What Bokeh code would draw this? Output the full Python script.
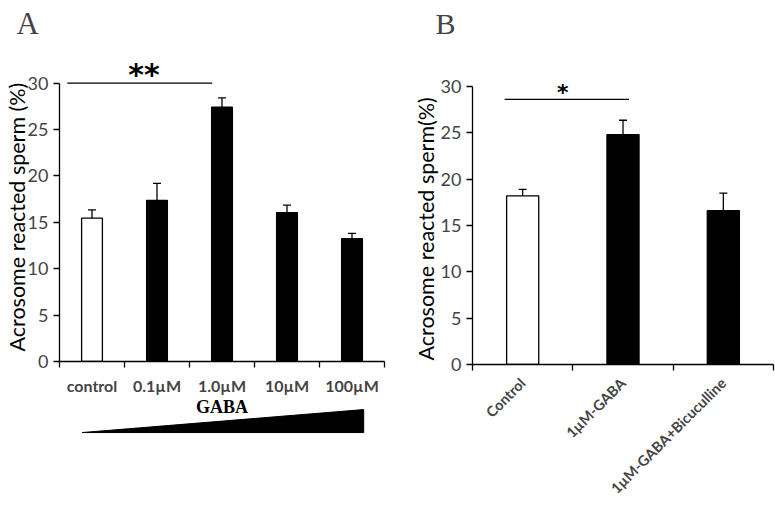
from bokeh.plotting import figure
from bokeh.models import Range1d, FixedTicker, ColumnDataSource, Whisker, TeeHead, Title
from bokeh.layouts import row, column
from bokeh.embed import file_html
from bokeh.resources import INLINE
from bokeh.core.properties import value
import math

# ---------------- data ----------------
cats_a = ["control", "0.1\u00b5M", "1.0\u00b5M", "10\u00b5M", "100\u00b5M"]
vals_a = [15.45, 17.35, 27.4, 16.05, 13.25]
errs_a = [0.9, 1.85, 1.0, 0.8, 0.55]
colors_a = ["white", "black", "black", "black", "black"]

cats_b = ["Control", "1\u00b5M-GABA", "1\u00b5M-GABA+Bicuculline"]
vals_b = [18.2, 24.8, 16.6]
errs_b = [0.7, 1.55, 1.9]
colors_b = ["white", "black", "black"]

y_ticks = [0, 5, 10, 15, 20, 25, 30]
sig_a = {"x0": 0.12, "x1": 2.35, "y": 30.0, "text": "**", "xt": 1.3, "size": "30px", "dy": -9}
sig_b = {"x0": 0.32, "x1": 1.56, "y": 28.6, "text": "*", "xt": 0.9, "size": "22px", "dy": -7}
grad_label = "GABA"
grad_x = [0.35, 4.68, 4.68]
grad_y = [-7.67, -5.2, -7.67]

FONT = "Lato"
YLABEL_FONT = "21.5px"
TICK_FONT = "18px"


def make_panel(cats, vals, errs, colors, width, height, mb_left, mb_right, mb_top, mb_bottom,
               y_end, ylabel, ylabel_offset, ylabel_standoff, xlabel_size, x_standoff, orient,
               sig, letter, letter_size, letter_offset, letter_standoff):
    n = len(cats)
    xs = [i + 0.5 for i in range(n)]
    p = figure(width=width, height=height, output_backend="svg", toolbar_location=None,
               x_range=Range1d(0, n), y_range=Range1d(0, y_end),
               min_border_left=mb_left, min_border_right=mb_right,
               min_border_top=mb_top, min_border_bottom=mb_bottom)
    p.outline_line_color = None
    p.grid.visible = False

    # panel letter
    p.title.text = letter
    p.title.text_font = "Liberation Serif"
    p.title.text_font_size = letter_size
    p.title.text_font_style = "normal"
    p.title.text_line_height = 0.9
    p.title.align = "left"
    p.title.offset = letter_offset
    p.title.standoff = letter_standoff

    src = ColumnDataSource(dict(x=xs, top=vals, color=colors,
                                upper=[v + e for v, e in zip(vals, errs)],
                                lower=[v - e for v, e in zip(vals, errs)]))
    p.vbar(x="x", top="top", width=0.32, bottom=0, fill_color="color",
           line_color="black", line_width=1.3, source=src)
    p.add_layout(Whisker(base="x", upper="upper", lower="lower", source=src,
                         line_color="black", line_width=1.3,
                         upper_head=TeeHead(size=8, line_color="black", line_width=1.3),
                         lower_head=TeeHead(size=8, line_color="black", line_width=1.3)))

    # significance bar
    p.segment(x0=[sig["x0"]], y0=[sig["y"]], x1=[sig["x1"]], y1=[sig["y"]],
              line_color="black", line_width=1.3)
    p.text(x=[sig["xt"]], y=[sig["y"]], text=[sig["text"]], y_offset=sig["dy"],
           text_font=value("DejaVu Sans"), text_font_style="bold", text_font_size=sig["size"],
           text_align="center", text_baseline="alphabetic", text_color="black")

    # y axis
    ya = p.yaxis[0]
    ya.ticker = FixedTicker(ticks=y_ticks)
    ya.bounds = (0, 30)
    ya.major_label_text_font = FONT
    ya.major_label_text_font_size = TICK_FONT
    ya.major_label_standoff = 5
    ya.major_tick_out = 6
    ya.major_tick_in = 0
    ya.minor_tick_out = 0
    ya.minor_tick_in = 0
    ya.axis_line_width = 1.3
    ya.major_tick_line_width = 1.3

    # y axis title, starting near the bottom of the axis
    p.add_layout(Title(text=ylabel, align="left", offset=ylabel_offset, standoff=ylabel_standoff,
                       text_font=FONT, text_font_style="normal",
                       text_font_size=YLABEL_FONT, text_color="black"), "left")

    # x axis: ticks between categories, labels at centres
    xa = p.xaxis[0]
    xa.ticker = FixedTicker(ticks=xs, minor_ticks=list(range(n + 1)))
    xa.major_label_overrides = {x: c for x, c in zip(xs, cats)}
    xa.major_label_text_font = FONT
    xa.major_label_text_font_style = "bold"
    xa.major_label_text_font_size = xlabel_size
    xa.major_tick_out = 0
    xa.major_tick_in = 0
    xa.minor_tick_out = 6
    xa.minor_tick_in = 0
    xa.minor_tick_line_color = "black"
    xa.minor_tick_line_width = 1.3
    xa.axis_line_width = 1.3
    xa.major_label_standoff = x_standoff
    if orient:
        xa.major_label_orientation = orient
    return p


# Panel A (page x 0..393)
pa = make_panel(cats_a, vals_a, errs_a, colors_a, width=393, height=397,
                mb_left=59, mb_right=9, mb_top=42, mb_bottom=36,
                y_end=34.27, ylabel="Acrosome reacted sperm (%)", ylabel_offset=10,
                ylabel_standoff=-10, xlabel_size="16px", x_standoff=8, orient=None, sig=sig_a,
                letter="A", letter_size="31px", letter_offset=-43, letter_standoff=5.7)

# GABA gradient strip under panel A (same x scale, continues the y scale below 0)
tri = figure(width=393, height=44, output_backend="svg", toolbar_location=None,
             x_range=pa.x_range, y_range=Range1d(-8.634, -3.903),
             x_axis_type=None, y_axis_type=None,
             min_border_left=59, min_border_right=9, min_border_top=0, min_border_bottom=0)
tri.outline_line_color = None
tri.grid.visible = False
tri.patch(x=grad_x, y=grad_y, fill_color="black", line_color="black", line_width=1)
tri.text(x=[len(cats_a) / 2], y=[-5.62], text=[grad_label], y_offset=-6,
         text_font=value("Liberation Serif"),
         text_font_style="bold", text_font_size="18px", text_align="center",
         text_baseline="alphabetic", text_color="black")

# Panel B (page x 393..775)
pb = make_panel(cats_b, vals_b, errs_b, colors_b, width=382, height=505,
                mb_left=79, mb_right=2, mb_top=42, mb_bottom=140,
                y_end=34.74, ylabel="Acrosome reacted sperm(%)", ylabel_offset=4,
                ylabel_standoff=-2, xlabel_size="14.5px", x_standoff=10, orient=math.pi / 4,
                sig=sig_b, letter="B", letter_size="30px", letter_offset=-37, letter_standoff=6)

layout = row(column(pa, tri), pb)
open("out.html", "w").write(file_html(layout, INLINE))
